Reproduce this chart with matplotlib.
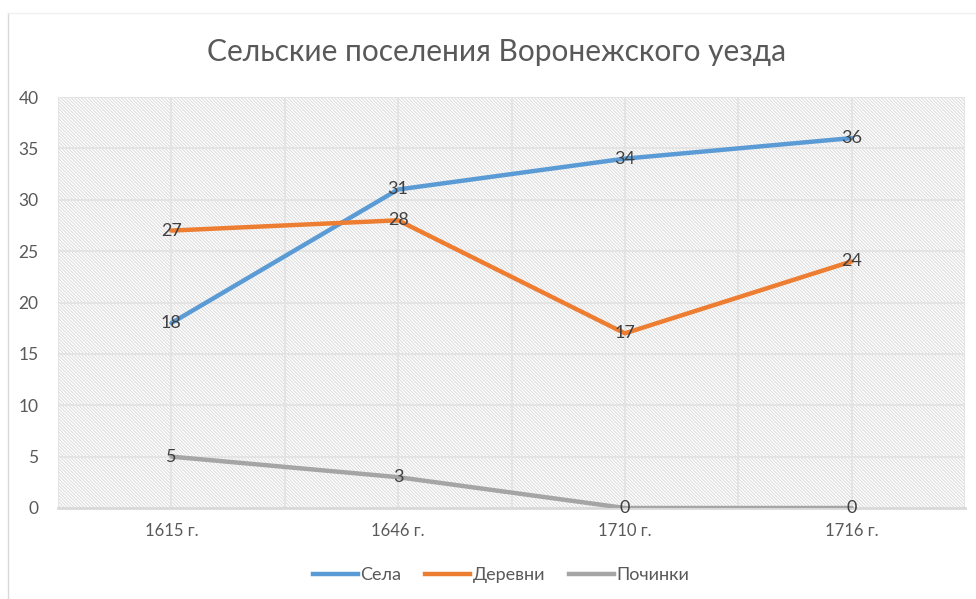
import matplotlib
matplotlib.use("Agg")
import matplotlib.pyplot as plt
from matplotlib.lines import Line2D

# данные
years = ["1615 г.", "1646 г.", "1710 г.", "1716 г."]
sela = [18, 31, 34, 36]
derevni = [27, 28, 17, 24]
pochinki = [5, 3, 0, 0]

names = ["Села", "Деревни", "Починки"]
colors = ["#5B9BD5", "#ED7D31", "#A5A5A5"]

plt.rcParams['font.family'] = ['Lato', 'DejaVu Sans']
plt.rcParams['hatch.color'] = '#DADADA'
plt.rcParams['hatch.linewidth'] = 0.7

fig = plt.figure(figsize=(9.76, 5.99), dpi=100)
ax = fig.add_axes([58/976, 1 - 508/599, (965 - 58)/976, (508 - 97)/599])

x = list(range(len(years)))
ax.set_xlim(-0.5, len(years) - 0.5)
ax.set_ylim(0, 40)

# штриховка фона
ax.fill_between([-0.5, len(years) - 0.5], 0, 40, facecolor='white',
                hatch='\\' * 10, edgecolor='#DADADA', linewidth=0, zorder=0)

# сетка
for yv in range(5, 45, 5):
    ax.axhline(yv, color='#E3E3E3', lw=1.3, zorder=1)
for xv in [i * 0.5 - 0.5 for i in range(2 * len(years) + 1)]:
    ax.axvline(xv, color='#E3E3E3', lw=1.3, zorder=1)

for vals, c in zip([sela, derevni, pochinki], colors):
    ax.plot(x, vals, color=c, lw=3.2, solid_capstyle='round', zorder=3)
    for xi, v in zip(x, vals):
        ax.text(xi, v, str(v), ha='center', va='center', fontsize=13,
                color='#404040', zorder=4)

for s in ['top', 'right', 'left']:
    ax.spines[s].set_visible(False)
ax.spines['bottom'].set_color('#D9D9D9')
ax.spines['bottom'].set_linewidth(2)

ax.set_xticks(x)
ax.set_xticklabels(years, fontsize=12, color='#595959')
ax.set_yticks(range(0, 45, 5))
ax.tick_params(axis='y', labelsize=12.5, labelcolor='#595959', length=0, pad=14)
ax.tick_params(axis='x', length=0, pad=11)

fig.text(497/976, 1 - 52/599, "Сельские поселения Воронежского уезда",
         ha='center', va='center', fontsize=21.5, color='#595959')

# рамка диаграммы слева
fig.add_artist(Line2D([8/976, 8/976], [0, 1 - 13/599], color='#D9D9D9', lw=1))
fig.add_artist(Line2D([8/976, 1], [1 - 13/599, 1 - 13/599], color='#F0F0F0', lw=1))

handles = [Line2D([0], [0], color=c, lw=3.2) for c in colors]
fig.legend(handles, names, loc='center', bbox_to_anchor=(501/976, 1 - 575/599),
           ncol=3, frameon=False, fontsize=13, handlelength=2.5,
           handletextpad=0.15, columnspacing=1.3, labelcolor='#595959')

fig.savefig("out.png", dpi=100)
